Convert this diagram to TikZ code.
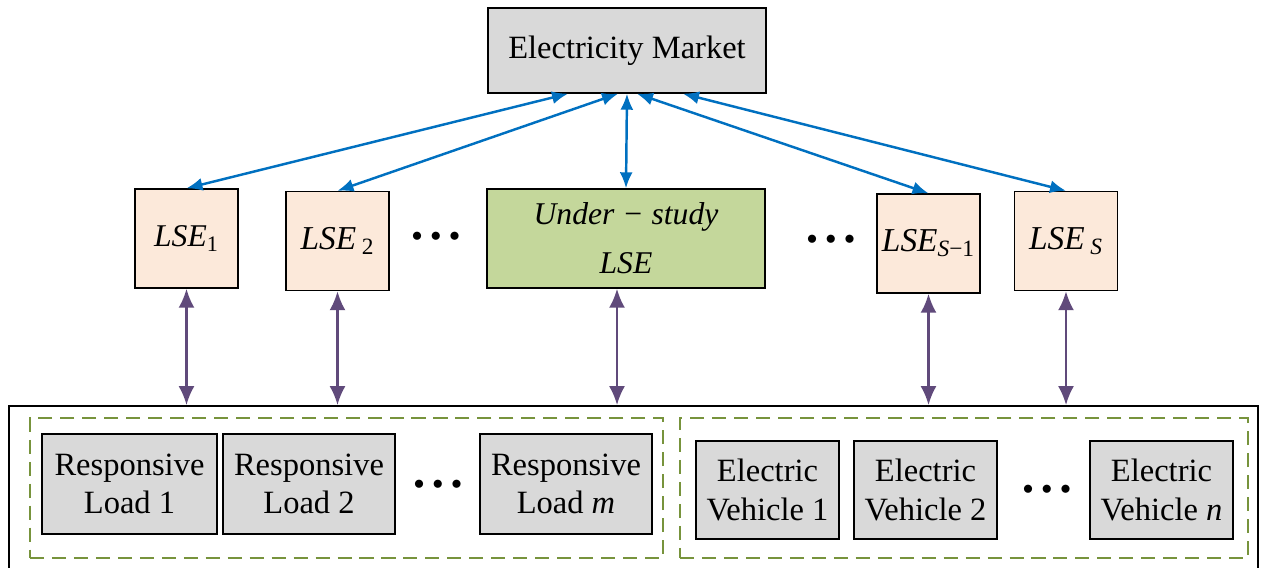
\documentclass[tikz,border=0pt]{standalone}
\usepackage{fontspec}
\setmainfont{Liberation Serif}
\usetikzlibrary{arrows.meta,fit}
\definecolor{mktblue}{HTML}{0070C0}
\definecolor{ctrlpurple}{HTML}{604A7B}
\definecolor{grpgreen}{HTML}{77933C}
\definecolor{lsefill}{HTML}{FCE9DA}
\definecolor{studyfill}{HTML}{C4D79B}
\definecolor{unitfill}{HTML}{D9D9D9}
\tikzset{
	diagram/.style={font=\fontsize{18.5}{22}\selectfont},
	unit/.style={draw, line width=0.8pt, fill=unitfill, align=center, inner sep=0pt},
	lsebox/.style={draw, line width=0.8pt, fill=lsefill, minimum width=20.6mm,
	               minimum height=19.8mm, inner sep=0pt, font=\fontsize{19}{22}\selectfont},
	trade/.style={{Latex[length=3.2mm,width=2.6mm]}-{Latex[length=3.2mm,width=2.6mm]},
	              line width=1.4pt, draw=mktblue},
	ctrl/.style={{Latex[length=3.8mm,width=3.2mm]}-{Latex[length=3.8mm,width=3.2mm]},
	             line width=1.4pt, draw=ctrlpurple},
	group/.style={draw=grpgreen, line width=1.1pt, dash pattern=on 8pt off 4.5pt, inner sep=0pt},
	frame/.style={draw, line width=1pt, inner sep=0pt},
	dots/.style={font=\fontsize{13}{13}\selectfont, inner sep=0pt},
}

\begin{document}
\begin{tikzpicture}[diagram]
\useasboundingbox (0,0) rectangle (25.22,-11.34);

% ---------- market and LSEs ----------
\node[unit, minimum width=55.6mm, minimum height=17mm] (market) at (12.54,-1.01) {Electricity Market};

\node[lsebox, font=\fontsize{18}{22}\selectfont] (lse1) at (3.73,-4.77) {\textit{LSE}\textsubscript{1}};
\node[lsebox] (lse2) at (6.75,-4.82) {\textit{LSE}\,\textsubscript{2}};
\node[dots] (d1) at (8.72,-4.74) {$\bullet\mkern3mu\bullet\mkern3mu\bullet$};
\node[unit, fill=studyfill, minimum width=55.6mm, minimum height=19.8mm,
      font=\fontsize{18}{28}\selectfont] (study) at (12.52,-4.77)
    {\textit{Under − study}\\\textit{LSE}};
\node[dots] (d2) at (16.62,-4.80) {$\bullet\mkern3mu\bullet\mkern3mu\bullet$};
\node[lsebox] (lses1) at (18.57,-4.87) {\textit{LSE}\textsubscript{\textit{S}−1}};
\node[lsebox] (lses) at (21.32,-4.82) {\textit{LSE}\,\textsubscript{\textit{S}}};

% ---------- responsive loads and EVs ----------
\node[unit, minimum width=35mm, minimum height=20mm] (rl1) at (2.59,-9.68) {Responsive\\Load 1};
\node[unit, minimum width=34.4mm, minimum height=20mm] (rl2) at (6.18,-9.68) {Responsive\\Load 2};
\node[dots] (d3) at (8.76,-9.70) {$\bullet\mkern3mu\bullet\mkern3mu\bullet$};
\node[unit, minimum width=34.4mm, minimum height=20mm] (rlm) at (11.32,-9.68) {Responsive\\Load \textit{m}};

\node[unit, minimum width=28.6mm, minimum height=19.6mm] (ev1) at (15.35,-9.80) {Electric\\Vehicle 1};
\node[unit, minimum width=28.6mm, minimum height=19.6mm] (ev2) at (18.51,-9.80) {Electric\\Vehicle 2};
\node[dots] (d4) at (20.94,-9.80) {$\bullet\mkern3mu\bullet\mkern3mu\bullet$};
\node[unit, minimum width=28.6mm, minimum height=19.6mm] (evn) at (23.23,-9.80) {Electric\\Vehicle \textit{n}};

\node[group, fit={(0.6,-8.36) (13.26,-11.16)}] (loads) {};
\node[group, fit={(13.6,-8.36) (24.96,-11.16)}] (evs) {};

\begin{scope}
    \clip (0,0) rectangle (25.22,-11.34);
    \node[frame, fit={(0.18,-8.12) (25.16,-12.5)}] (outer) {};
\end{scope}

% ---------- links ----------
\draw[trade] ([xshift=-11.8mm]market.south) -- (lse1.north);
\draw[trade] ([xshift=-1.8mm]market.south) -- (lse2.north);
\draw[trade] (market.south) -- (study.north);
\draw[trade] ([xshift=2mm]market.south) -- (lses1.north);
\draw[trade] ([xshift=11.2mm]market.south) -- (lses.north);

\draw[ctrl] (lse1.south) -- (lse1.south |- outer.north);
\draw[ctrl] (lse2.south) -- (lse2.south |- outer.north);
\draw[ctrl] ([xshift=-1.8mm]study.south) -- ([xshift=-1.8mm]study.south |- outer.north);
\draw[ctrl] (lses1.south) -- (lses1.south |- outer.north);
\draw[ctrl] (lses.south) -- (lses.south |- outer.north);

\end{tikzpicture}
\end{document}
